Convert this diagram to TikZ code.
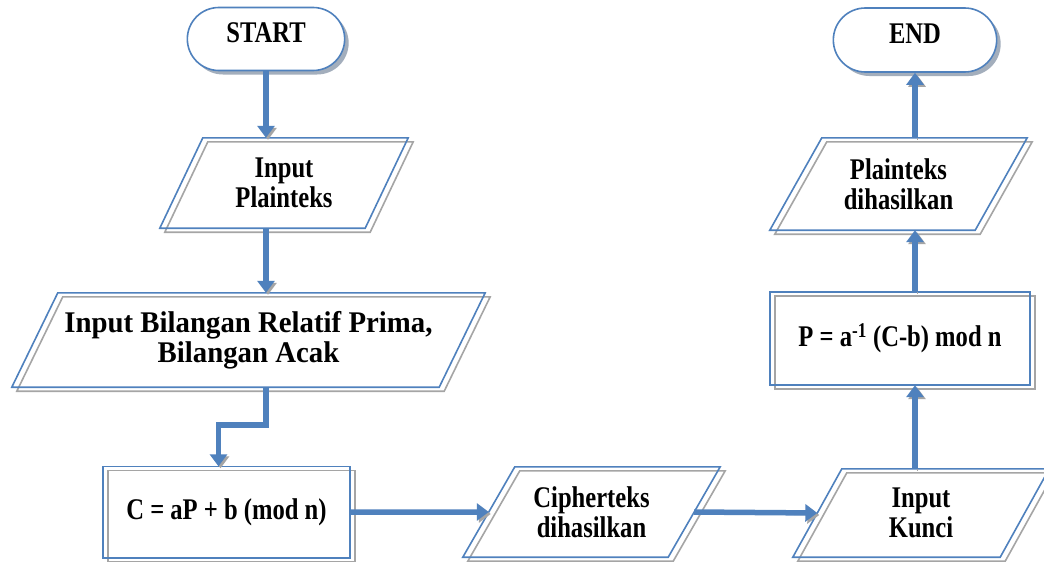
\documentclass[tikz,border=0pt]{standalone}
\usepackage{fontspec}
\setmainfont{Liberation Serif}
\newfontfamily\tallserif{Liberation Serif}[FakeStretch=0.82]
\newfontfamily\wideserif{Liberation Serif}[FakeStretch=0.96]
\usetikzlibrary{shapes.misc,shadows,arrows.meta,calc}
\definecolor{flowblue}{RGB}{79,129,189}
\definecolor{rimgray}{RGB}{165,165,165}
\definecolor{shadowblue}{RGB}{125,140,160}

\tikzset{
  lbl/.style={font=\tallserif\fontsize{30}{30}\selectfont\bfseries, align=center},
  term/.style={rounded rectangle, draw=flowblue, line width=1.6pt, fill=white,
    drop shadow={shadow xshift=4pt, shadow yshift=-4pt, fill=shadowblue, opacity=0.7},
    lbl, text height=20pt, text depth=14pt},
  frame/.style={draw=none, lbl, inner sep=0pt},
  blueline/.style={draw=flowblue, line width=1.6pt},
  grayline/.style={draw=rimgray, line width=1.6pt, transform canvas={xshift=5pt, yshift=-4pt}},
  flow/.style={draw=flowblue, line width=5.5pt, -{Triangle[width=17pt,length=12pt]},
    preaction={draw=rimgray, transform canvas={xshift=2pt, yshift=-2pt}}},
}

% parallelogram inside the box of node #1, top edge shifted right by #2;
% also names the midpoints of its slanted sides (#1-l) and (#1-r)
\newcommand\drawio[2]{%
  \foreach \sty in {grayline, blueline}{
    \draw[\sty] ($(#1.north west)+(#2,0)$) -- (#1.north east)
      -- ($(#1.south east)-(#2,0)$) -- (#1.south west) -- cycle;
  }
  \coordinate (#1-l) at ($(#1.south west)!0.5!(#1.north west)+(#2/2,0)$);
  \coordinate (#1-r) at ($(#1.south east)!0.5!(#1.north east)-(#2/2,0)$);
}
\newcommand\drawbox[1]{%
  \foreach \sty in {grayline, blueline}{
    \draw[\sty] (#1.north west) rectangle (#1.south east);
  }
}

\begin{document}
\begin{tikzpicture}[x=1pt, y=-1pt]
  \useasboundingbox[fill=white] (0,0) rectangle (1044,562);

  % terminals
  \node[term, minimum width=164pt, minimum height=63pt] (start) at (266,39) {START};
  \node[term, minimum width=170pt, minimum height=64pt] (end) at (915,40) {END};

  % left column
  \node[frame, minimum width=248pt, minimum height=90pt] (inp) at (284,183) {Input\\Plainteks};
  \drawio{inp}{43}
  \node[frame, font=\wideserif\fontsize{30}{30}\selectfont\bfseries, minimum width=473pt, minimum height=94pt]
    (bil) at (248.5,340) {Input Bilangan Relatif Prima,\\Bilangan Acak};
  \drawio{bil}{46}
  \node[frame, minimum width=247pt, minimum height=91pt] (cbox) at (226.5,512) {C = aP + b (mod n)};
  \drawbox{cbox}

  % bottom row
  \node[frame, minimum width=257pt, minimum height=90pt] (ciph) at (591.5,512) {Cipherteks\\dihasilkan};
  \drawio{ciph}{52}
  \node[frame, minimum width=256pt, minimum height=88pt] (kunci) at (921,513) {Input\\Kunci};
  \drawio{kunci}{49}

  % right column
  \node[frame, minimum width=260pt, minimum height=93pt] (pbox) at (900,338.5)
    {P = a\textsuperscript{-1} (C-b) mod n};
  \drawbox{pbox}
  \node[frame, minimum width=257pt, minimum height=92pt] (plain) at (898.5,184) {Plainteks\\dihasilkan};
  \drawio{plain}{52}

  % connectors
  \draw[flow] (start.south) -- (start.south |- inp.north);
  \draw[flow] (inp.south -| start.south) -- (bil.north -| start.south);
  \draw[flow] (bil.south -| start.south) -- ++(0,38) -| ([xshift=-8pt]cbox.north);
  \draw[flow] (cbox.east) -- (ciph-l);
  \draw[flow] (ciph-r) -- (kunci-l);
  \draw[flow] (kunci.north -| end.south) -- (pbox.south -| end.south);
  \draw[flow] (pbox.north -| end.south) -- (plain.south -| end.south);
  \draw[flow] (plain.north -| end.south) -- (end.south);
\end{tikzpicture}
\end{document}
